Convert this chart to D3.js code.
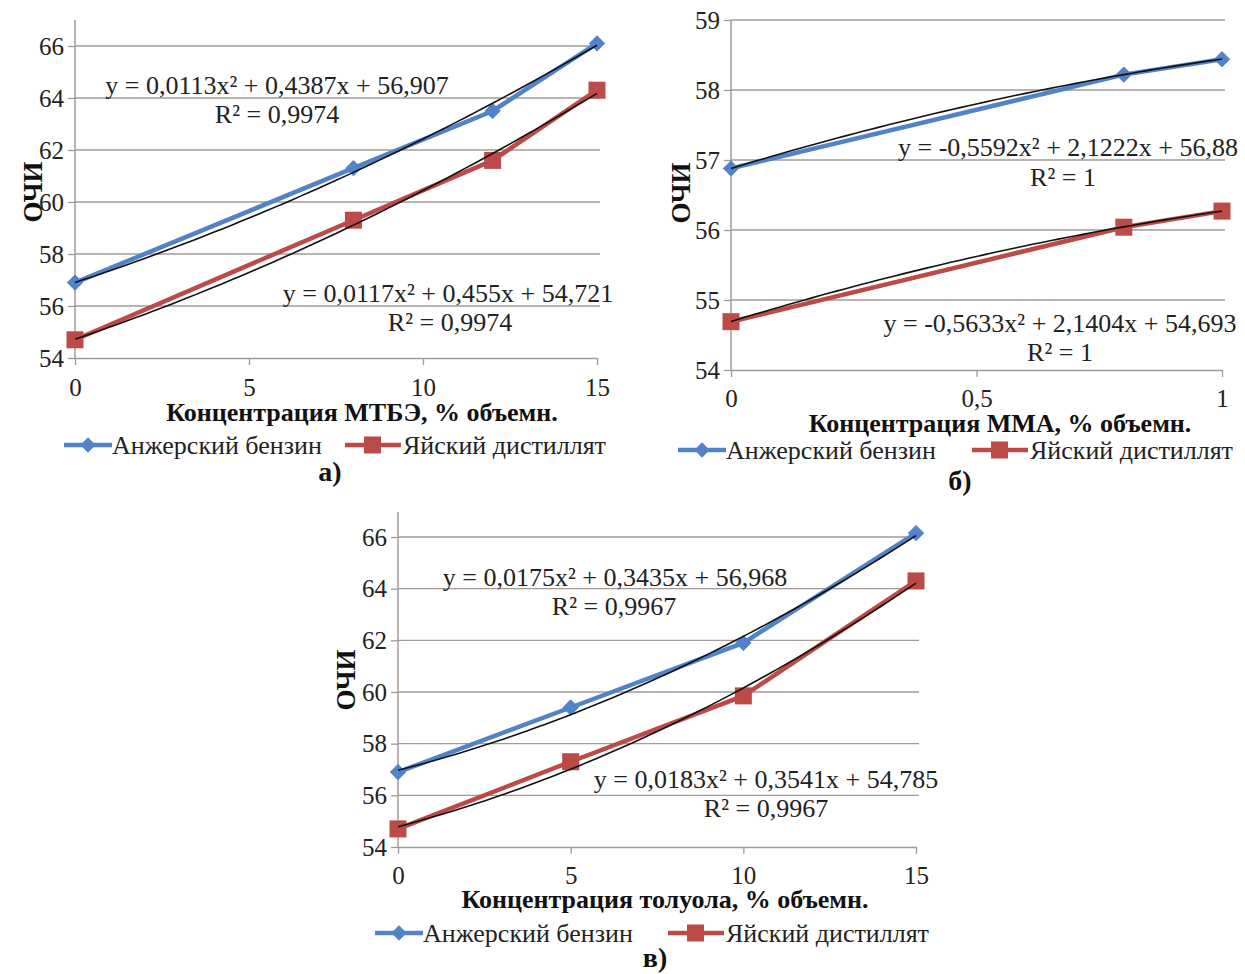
<!DOCTYPE html>
<html><head><meta charset="utf-8">
<script src="https://cdn.jsdelivr.net/npm/d3@7"></script>
<style>
body{margin:0;background:#fff;}
text{font-family:"Liberation Serif","Times New Roman",serif;}
</style></head>
<body><svg id="c" width="1245" height="974"></svg>
<script>
// ---- data ----
const seriesNames = ["Анжерский бензин", "Яйский дистиллят"];
const xA = [0, 8, 12, 15];
const anzhA = [56.9, 61.3, 63.5, 66.1];
const yaiA = [54.7, 59.3, 61.6, 64.3];
const trendAnzhA = [0.0113, 0.4387, 56.907];
const trendYaiA = [0.0117, 0.455, 54.721];
const eqA = ["y = 0,0113x² + 0,4387x + 56,907", "R² = 0,9974", "y = 0,0117x² + 0,455x + 54,721", "R² = 0,9974"];

const xB = [0, 0.8, 1];
const anzhB = [56.88, 58.22, 58.44];
const yaiB = [54.69, 56.04, 56.27];
const trendAnzhB = [-0.5592, 2.1222, 56.88];
const trendYaiB = [-0.5633, 2.1404, 54.693];
const eqB = ["y = -0,5592x² + 2,1222x + 56,88", "R² = 1", "y = -0,5633x² + 2,1404x + 54,693", "R² = 1"];

const xV = [0, 5, 10, 15];
const anzhV = [56.9, 59.4, 61.9, 66.15];
const yaiV = [54.7, 57.3, 59.85, 64.3];
const trendAnzhV = [0.0175, 0.3435, 56.968];
const trendYaiV = [0.0183, 0.3541, 54.785];
const eqV = ["y = 0,0175x² + 0,3435x + 56,968", "R² = 0,9967", "y = 0,0183x² + 0,3541x + 54,785", "R² = 0,9967"];

const yTicks12 = [54, 56, 58, 60, 62, 64, 66];
const yTicks5 = [54, 55, 56, 57, 58, 59];
const xTicks15 = [0, 5, 10, 15];
const xTicks1 = [0, 0.5, 1];
const xTitles = ["Концентрация МТБЭ, % объемн.", "Концентрация ММА, % объемн.", "Концентрация толуола, % объемн."];
const panelLabels = ["а)", "б)", "в)"];
const yTitle = "ОЧИ";

const BLUE = "#5282c8", RED = "#bc4a47", GRID = "#a39a98";
const svg = d3.select("#c");

function panel(o) {
  const g = svg.append("g");
  const x = d3.scaleLinear().domain(o.xDom).range([o.x0, o.x1]);
  const y = d3.scaleLinear().domain(o.yDom).range([o.y0, o.y1]);
  // gridlines
  g.append("g").selectAll("line").data(o.yTicks.slice(1)).join("line")
    .attr("x1", o.x0).attr("x2", o.x1 + 3).attr("y1", d => y(d)).attr("y2", d => y(d))
    .attr("stroke", GRID).attr("stroke-width", 1.3);
  // y axis
  const ya = g.append("g").attr("transform", `translate(${o.x0},0)`)
    .call(d3.axisLeft(y).tickValues(o.yTicks).tickSize(7).tickSizeOuter(0).tickFormat(d3.format("d")));
  ya.select(".domain").remove();
  ya.selectAll(".tick line").attr("stroke", GRID).attr("stroke-width", 1.3);
  ya.selectAll(".tick text").attr("font-size", 25).attr("fill", "#222").attr("x", -11)
    .style("font-family", "Liberation Serif");
  g.append("line").attr("x1", o.x0).attr("x2", o.x0).attr("y1", o.axisTop).attr("y2", o.y0)
    .attr("stroke", GRID).attr("stroke-width", 1.5);
  // x axis
  const xa = g.append("g").attr("transform", `translate(0,${o.y0})`)
    .call(d3.axisBottom(x).tickValues(o.xTicks).tickSize(7).tickSizeOuter(0)
      .tickFormat(d => String(d).replace(".", ",")));
  xa.select(".domain").attr("stroke", GRID).attr("stroke-width", 1.5);
  xa.selectAll(".tick line").attr("stroke", GRID).attr("stroke-width", 1.3);
  xa.selectAll(".tick text").attr("font-size", 25).attr("fill", "#222").attr("y", o.xTickY)
    .style("font-family", "Liberation Serif");
  // series
  const ln = d3.line().x(d => x(d[0])).y(d => y(d[1]));
  const sA = o.xs.map((v, i) => [v, o.a[i]]);
  const sB = o.xs.map((v, i) => [v, o.b[i]]);
  g.append("path").attr("d", ln(sA)).attr("fill", "none").attr("stroke", BLUE).attr("stroke-width", 4.5);
  g.append("path").attr("d", ln(sB)).attr("fill", "none").attr("stroke", RED).attr("stroke-width", 4.5);
  g.append("g").selectAll("path").data(sA).join("path")
    .attr("d", d3.symbol(d3.symbolDiamond2, 150))
    .attr("transform", d => `translate(${x(d[0])},${y(d[1])})`).attr("fill", BLUE).attr("stroke", BLUE);
  g.append("g").selectAll("rect").data(sB).join("rect")
    .attr("x", d => x(d[0]) - 8.5).attr("y", d => y(d[1]) - 8.5).attr("width", 17).attr("height", 17)
    .attr("fill", RED);
  // trendlines
  const dense = d3.range(0, 61).map(i => o.xDom[0] + (o.xDom[1] - o.xDom[0]) * i / 60);
  [o.ta, o.tb].forEach(c => {
    const pts = dense.map(v => [v, c[0] * v * v + c[1] * v + c[2]]);
    g.append("path").attr("d", ln(pts)).attr("fill", "none").attr("stroke", "#111").attr("stroke-width", 1.6);
  });
  // equations
  o.eqPos.forEach((p, i) => {
    g.append("text").attr("x", p[0]).attr("y", p[1]).attr("text-anchor", "middle")
      .attr("font-size", 26).attr("fill", "#222").text(o.eq[i]);
  });
  // y title
  g.append("text").attr("transform", `translate(${o.yTitleX},${o.yTitleY}) rotate(-90)`)
    .attr("text-anchor", "middle").attr("font-size", 27).attr("font-weight", "bold").attr("fill", "#111").text(yTitle);
  // x title
  g.append("text").attr("x", o.xTitleX).attr("y", o.xTitleY).attr("text-anchor", "middle")
    .attr("font-size", 26).attr("font-weight", "bold").attr("fill", "#111").text(o.xTitle);
  // legend
  const lg = g.append("g");
  const L = o.leg;
  lg.append("line").attr("x1", L[0]).attr("x2", L[0] + 48).attr("y1", L[2]).attr("y2", L[2]).attr("stroke", BLUE).attr("stroke-width", 4.5);
  lg.append("path").attr("d", d3.symbol(d3.symbolDiamond2, 150)).attr("transform", `translate(${L[0] + 24},${L[2]})`).attr("fill", BLUE);
  lg.append("text").attr("x", L[0] + 48).attr("y", L[2] + 9).attr("font-size", 26).attr("fill", "#222").text(seriesNames[0]);
  lg.append("line").attr("x1", L[1]).attr("x2", L[1] + 56).attr("y1", L[2]).attr("y2", L[2]).attr("stroke", RED).attr("stroke-width", 4.5);
  lg.append("rect").attr("x", L[1] + 19).attr("y", L[2] - 8.5).attr("width", 17).attr("height", 17).attr("fill", RED);
  lg.append("text").attr("x", L[1] + 58).attr("y", L[2] + 9).attr("font-size", 26).attr("fill", "#222").text(seriesNames[1]);
  // panel label
  g.append("text").attr("x", o.lab[0]).attr("y", o.lab[1]).attr("text-anchor", "middle")
    .attr("font-size", 28).attr("font-weight", "bold").attr("fill", "#111").text(o.label);
}

panel({xDom: [0, 15], yDom: [54, 66], x0: 75, x1: 597, y0: 358, y1: 46, axisTop: 20, xTickY: 20,
  yTicks: yTicks12, xTicks: xTicks15, xs: xA, a: anzhA, b: yaiA, ta: trendAnzhA, tb: trendYaiA,
  eq: eqA, eqPos: [[277, 94], [277, 123], [448, 302], [450, 331]],
  yTitleX: 42, yTitleY: 192, xTitle: xTitles[0], xTitleX: 362, xTitleY: 421,
  leg: [64, 345, 445], lab: [330, 481], label: panelLabels[0]});

panel({xDom: [0, 1], yDom: [54, 59], x0: 731, x1: 1222, y0: 370, y1: 20, axisTop: 20, xTickY: 19,
  yTicks: yTicks5, xTicks: xTicks1, xs: xB, a: anzhB, b: yaiB, ta: trendAnzhB, tb: trendYaiB,
  eq: eqB, eqPos: [[1068, 156], [1063, 186], [1060, 332], [1060, 361]],
  yTitleX: 690, yTitleY: 193, xTitle: xTitles[1], xTitleX: 1000, xTitleY: 432,
  leg: [678, 972, 450], lab: [960, 490], label: panelLabels[1]});

panel({xDom: [0, 15], yDom: [54, 66], x0: 398, x1: 916, y0: 847, y1: 537, axisTop: 512, xTickY: 19,
  yTicks: yTicks12, xTicks: xTicks15, xs: xV, a: anzhV, b: yaiV, ta: trendAnzhV, tb: trendYaiV,
  eq: eqV, eqPos: [[615, 586], [614, 615], [766, 788], [766, 817]],
  yTitleX: 355, yTitleY: 680, xTitle: xTitles[2], xTitleX: 665, xTitleY: 908,
  leg: [375, 668, 933], lab: [655, 967], label: panelLabels[2]});
</script></body></html>
